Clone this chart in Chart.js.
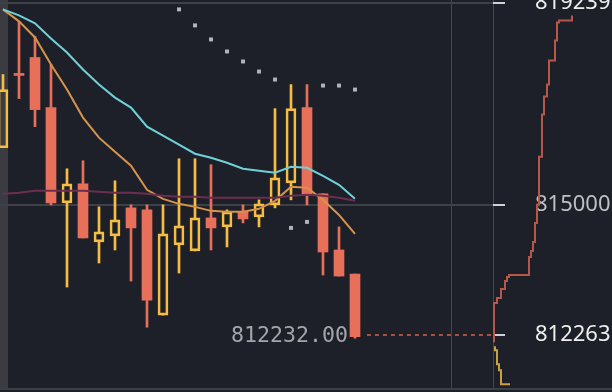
<!DOCTYPE html>
<html>
<head>
<meta charset="utf-8">
<script src="https://cdn.jsdelivr.net/npm/chart.js@4/dist/chart.umd.min.js"></script>
<style>
  html, body { margin: 0; padding: 0; background: #1e2029; }
  canvas { display: block; }
</style>
</head>
<body>
<canvas id="chart" width="612" height="392"></canvas>
<script>
'use strict'

// candles, one per slot
const opens = [816200, 817760, 818095, 817042, 815042, 815442, 814221, 814347, 814937, 814895, 812684, 814158,
  814032, 814726, 814537, 814853, 814747, 815000, 815463, 817042, 815232, 814053, 813547]
const highs = [817737, 818853, 818537, 817948, 815758, 815926, 814958, 815505, 815000, 815000, 815000, 815968,
  815968, 815842, 814895, 815000, 815105, 817021, 817526, 817526, 815232, 814537, 813547]
const lows = [816200, 817232, 816642, 815000, 813274, 814305, 813779, 814053, 813400, 812431, 812684, 813568,
  814032, 814053, 814116, 814621, 814537, 814937, 815105, 815000, 813526, 813505, 812200]
const closes = [817421, 817718, 817000, 815042, 815442, 814305, 814432, 814684, 814516, 813000, 814389, 814558,
  814726, 814516, 814853, 814705, 815021, 815568, 817021, 815211, 814010, 813505, 812232]

// moving averages
const maFast = [819106, 818853, 818516, 817948, 817421, 816832, 816411, 816116, 815821, 815316, 815126, 815021,
  814958, 814874, 814853, 814853, 814916, 815084, 815379, 815358, 815105, 814789, 814389]
const maMid = [819106, 818979, 818811, 818495, 818200, 817842, 817527, 817253, 817042, 816642, 816453, 816263,
  816074, 815990, 815884, 815758, 815716, 815674, 815800, 815779, 815611, 815421, 815126]
const maSlow = [815232, 815253, 815295, 815295, 815295, 815295, 815274, 815253, 815253, 815232, 815189, 815168,
  815168, 815147, 815147, 815147, 815147, 815147, 815189, 815211, 815189, 815147, 815084]

// parabolic sar (earlier dots sit above the visible range)
const sarValues = [null, null, null, null, null, null, null, null, null, null, null, 819105,
  818769, 818474, 818221, 818011, 817800, 817632, 814516, 814642, 817505, 817505, 817421]

// order book depth
const askVolumes = [1, 4, 8, 12, 14, 16, 36, 38, 40, 42, 44, 46, 49, 51, 54, 56, 62, 64, 66, 79, 79]
const askPrices = [812116, 812937, 813042, 813231, 813400, 813484, 813526, 813905, 814032, 814221, 814621, 815000,
  816011, 816895, 817274, 817526, 818032, 818453, 818832, 818874, 818979]
const bidVolumes = [2, 4, 6, 8, 10, 17]
const bidPrices = [812031, 811947, 811652, 811526, 811231, 811231]

const priceTicks = [819239, 815000, 812263]
const markPrice = 812263
const lastPrice = 812232
const sessionMark = 28

const RED = '#e8705a'
const YELLOW = '#f5bd41'

const up = closes.map((c, i) => c >= opens[i])
const candleColor = (ctx) => up[ctx.dataIndex] ? YELLOW : RED

const bodies = opens.map((o, i) => ({ x: i, y: [o, closes[i]] }))
const upperWicks = opens.map((o, i) => ({ x: i, y: [Math.max(o, closes[i]), highs[i]] }))
const lowerWicks = opens.map((o, i) => ({ x: i, y: [lows[i], Math.min(o, closes[i])] }))
const series = (arr) => arr.map((v, i) => ({ x: i, y: v }))

const noPadding = (s) => {
  s.paddingTop = 0
  s.paddingBottom = 0
  s.paddingLeft = 0
  s.paddingRight = 0
}

const backdrop = {
  id: 'backdrop',
  beforeDraw: (chart) => {
    const ctx = chart.ctx
    const area = chart.chartArea
    ctx.save()
    ctx.fillStyle = '#1e2029'
    ctx.fillRect(0, 0, chart.width, chart.height)
    // left strip
    ctx.fillStyle = '#3a3c41'
    ctx.fillRect(0, 0, 8, area.bottom)
    // session line and axis edge
    ctx.strokeStyle = '#45474e'
    ctx.lineWidth = 1
    const xs = Math.round(chart.scales.x.getPixelForValue(sessionMark)) + 0.5
    ctx.beginPath()
    ctx.moveTo(xs, 0)
    ctx.lineTo(xs, area.bottom)
    ctx.moveTo(area.right + 0.5, 0)
    ctx.lineTo(area.right + 0.5, area.bottom)
    ctx.stroke()
    // bottom rule
    ctx.strokeStyle = '#3d3f46'
    ctx.lineWidth = 2
    ctx.beginPath()
    ctx.moveTo(0, area.bottom + 1)
    ctx.lineTo(chart.width, area.bottom + 1)
    ctx.stroke()
    ctx.restore()
  },
  afterDatasetsDraw: (chart) => {
    const ctx = chart.ctx
    const xScale = chart.scales.x
    const yScale = chart.scales.y
    const lastX = xScale.getPixelForValue(closes.length - 1)
    const yMark = Math.round(yScale.getPixelForValue(markPrice))
    ctx.save()
    ctx.strokeStyle = '#a9503f'
    ctx.lineWidth = 2
    ctx.setLineDash([4, 4])
    ctx.beginPath()
    ctx.moveTo(lastX + 12, yMark)
    ctx.lineTo(chart.chartArea.right, yMark)
    ctx.stroke()
    ctx.setLineDash([])
    ctx.fillStyle = '#a3a5aa'
    ctx.font = '21.6px "DejaVu Sans Mono"'
    ctx.textAlign = 'right'
    ctx.textBaseline = 'middle'
    ctx.fillText(lastPrice.toFixed(2), lastX - 7, yScale.getPixelForValue(lastPrice))
    ctx.restore()
  }
}

const ctx = document.getElementById('chart')
const myChart = new Chart(ctx, {
  type: 'bar',
  data: {
    datasets: [
      { type: 'line', label: 'ma slow', data: series(maSlow), borderColor: '#6c2e4f', borderWidth: 2, pointRadius: 0, order: 0 },
      { type: 'line', label: 'ma mid', data: series(maMid), borderColor: '#6fd1d8', borderWidth: 2, pointRadius: 0, order: 1 },
      { type: 'line', label: 'ma fast', data: series(maFast), borderColor: '#d6944b', borderWidth: 2, pointRadius: 0, order: 2 },
      {
        type: 'line',
        label: 'sar',
        data: series(sarValues).filter(p => p.y !== null),
        showLine: false,
        pointStyle: 'rect',
        pointRadius: 2.8,
        pointBorderWidth: 0,
        pointBackgroundColor: '#b1b3b7',
        order: 3
      },
      {
        label: 'bodies',
        data: bodies,
        grouped: false,
        barThickness: 10,
        backgroundColor: (c) => up[c.dataIndex] ? 'transparent' : RED,
        borderColor: candleColor,
        borderWidth: (c) => up[c.dataIndex] ? 2 : 0,
        borderSkipped: false,
        order: 4
      },
      { label: 'upper wicks', data: upperWicks, grouped: false, barThickness: 2, backgroundColor: candleColor, borderWidth: 0, order: 5 },
      { label: 'lower wicks', data: lowerWicks, grouped: false, barThickness: 2, backgroundColor: candleColor, borderWidth: 0, order: 6 },
      {
        type: 'line',
        label: 'asks',
        xAxisID: 'xd',
        data: askVolumes.map((v, i) => ({ x: v, y: askPrices[i] })),
        stepped: 'after',
        borderColor: '#b5584a',
        borderWidth: 2,
        pointRadius: 0,
        clip: false,
        order: 7
      },
      {
        type: 'line',
        label: 'bids',
        xAxisID: 'xd',
        data: bidVolumes.map((v, i) => ({ x: v, y: bidPrices[i] })),
        stepped: 'after',
        borderColor: '#c9a23d',
        borderWidth: 2,
        pointRadius: 0,
        clip: false,
        order: 8
      }
    ]
  },
  options: {
    responsive: false,
    devicePixelRatio: 1,
    animation: false,
    layout: { autoPadding: false, padding: { top: 3, bottom: 4, left: 0, right: 0 } },
    plugins: { legend: { display: false }, tooltip: { enabled: false } },
    scales: {
      x: {
        type: 'linear',
        display: false,
        offset: false,
        bounds: 'data',
        min: -0.1875,
        max: 30.625,
        afterFit: noPadding
      },
      xd: {
        type: 'linear',
        display: false,
        offset: false,
        bounds: 'data',
        // one volume unit per pixel, starting at the price axis
        afterDataLimits: (s) => { s.min = -493; s.max = 0 },
        afterFit: noPadding
      },
      y: {
        type: 'linear',
        position: 'right',
        min: 811154,
        max: 819239,
        afterBuildTicks: (s) => { s.ticks = priceTicks.map(v => ({ value: v })) },
        afterFit: (s) => {
          s.width = 119
          noPadding(s)
        },
        border: { display: false },
        grid: {
          color: (c) => c.tick && c.tick.value === markPrice ? 'transparent' : '#3e4047',
          lineWidth: 2,
          tickLength: 12,
          tickColor: '#cfd0d2',
          tickWidth: 2
        },
        ticks: {
          autoSkip: false,
          padding: 30,
          color: (c) => c.tick.value === 815000 ? '#bfc0c3' : '#eeeeee',
          font: { family: 'Noto Sans', size: 22 },
          callback: (v) => String(v)
        }
      }
    }
  },
  plugins: [backdrop]
})
</script>
</body>
</html>
